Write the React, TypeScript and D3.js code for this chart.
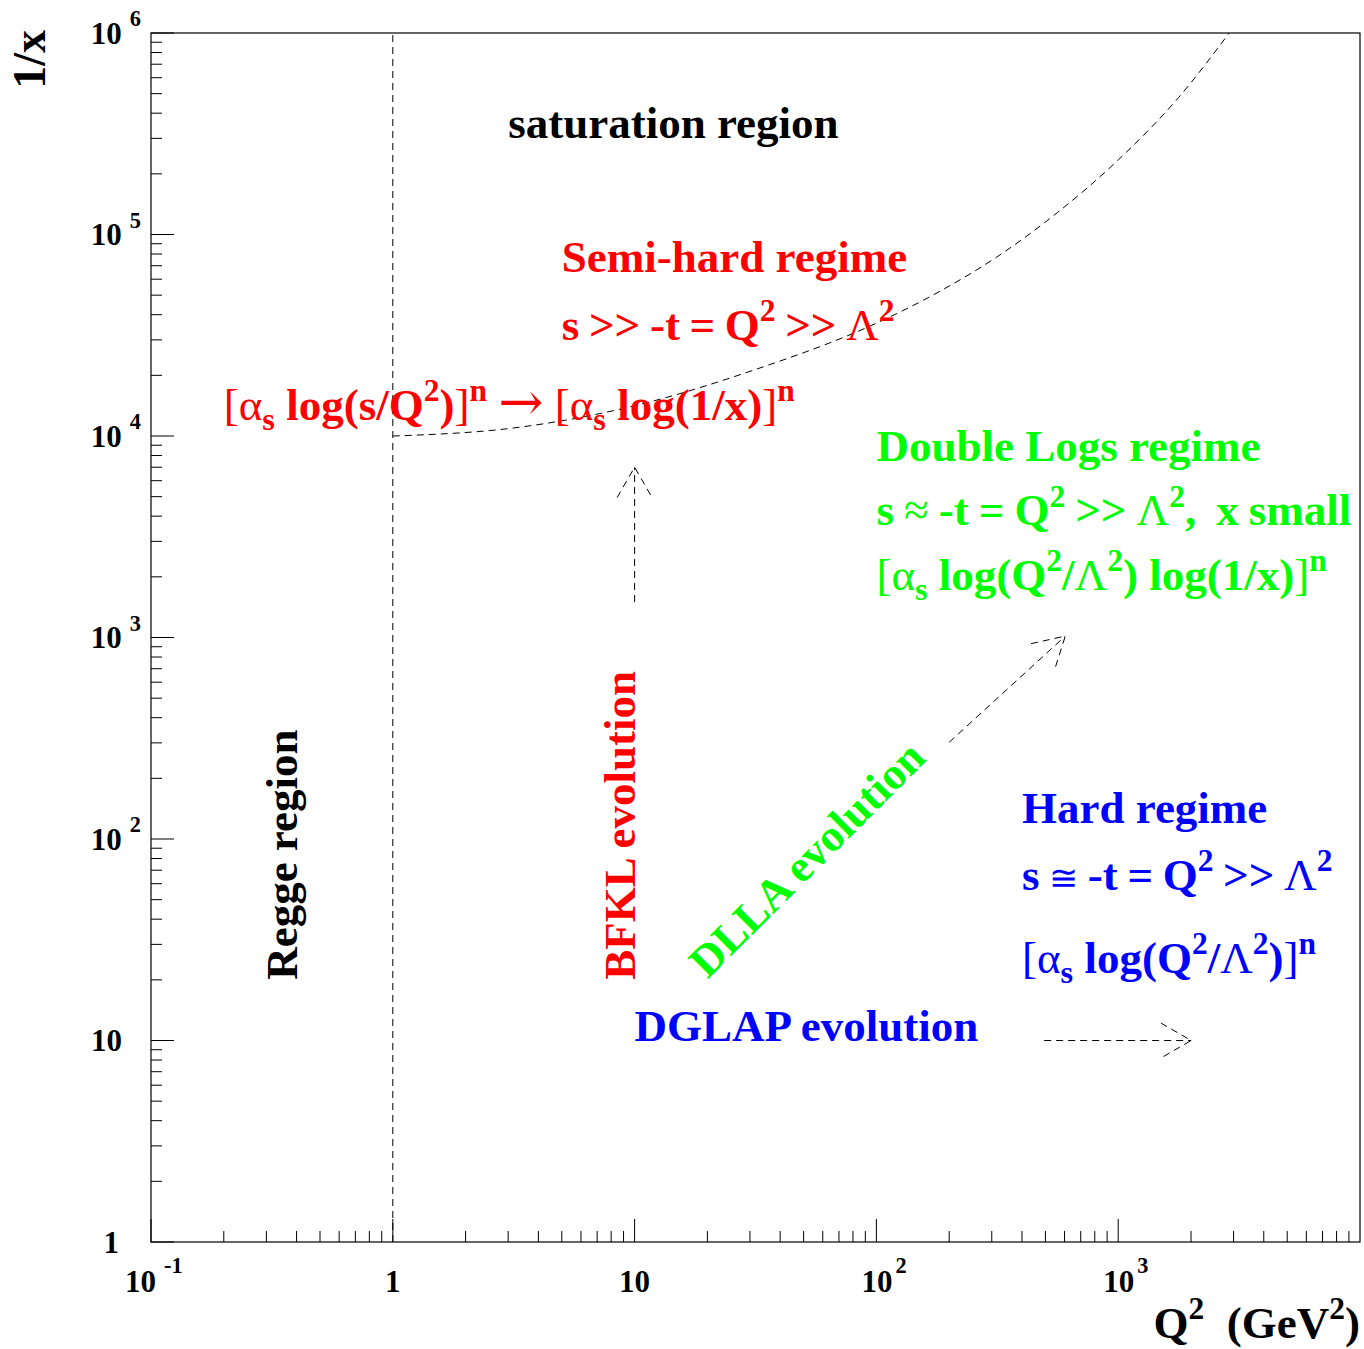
import React from "react";
import * as d3 from "d3";

const WIDTH = 1364;
const HEIGHT = 1349;

// Axis domains: Q^2 in GeV^2 (horizontal) and 1/x (vertical)
const q2Domain = [0.1, 1e4];
const invXDomain = [1, 1e6];

// Saturation boundary curve, starting at Q^2 = 1, 1/x = 10^4
const boundaryQ2 = [1, 3.16, 10, 31.6, 100, 178, 316, 562, 1000, 1778, 2877];
const boundaryInvX = [1e4, 1.096e4, 1.413e4, 2.138e4, 3.63e4, 5.13e4, 7.76e4, 1.288e5, 2.344e5, 4.786e5, 1e6];

// Regge boundary: Q^2 = 1
const reggeQ2 = 1;

// Evolution arrows (tail -> head)
const arrowNames = ["BFKL", "DLLA", "DGLAP"];
const arrowFromQ2 = [10, 200, 494];
const arrowFromInvX = [1500, 302, 10];
const arrowToQ2 = [10, 604, 2004];
const arrowToInvX = [7000, 1016, 10];

// Tick labels
const xMajorTicks = [0.1, 1, 10, 100, 1000];
const xTickLabels = ["10^{-1}", "1", "10", "10^{2}", "10^{3}"];
const yMajorTicks = [1, 10, 100, 1e3, 1e4, 1e5, 1e6];
const yTickLabels = ["1", "10", "10^{2}", "10^{3}", "10^{4}", "10^{5}", "10^{6}"];

const FONT = "'Liberation Serif', 'Times New Roman', Times, serif";
const THIN = new Set(["[", "]", "α", "→", "≈", "≅", "Λ"]);
const SOLO = new Set(["→", "≅"]);

type Seg = { kind: "n" | "sup" | "sub"; text: string; thin?: boolean };

function parse(src: string): Seg[] {
  const out: Seg[] = [];
  const re = /\^\{([^}]*)\}|_\{([^}]*)\}|([^^_]+)/g;
  let m: RegExpExecArray | null;
  while ((m = re.exec(src))) {
    if (m[1] !== undefined) out.push({ kind: "sup", text: m[1] });
    else if (m[2] !== undefined) out.push({ kind: "sub", text: m[2] });
    else {
      // split into runs of symbol glyphs and ordinary text
      let run = "";
      let runThin = false;
      for (const ch of m[3]) {
        const t = THIN.has(ch);
        if (run && (t !== runThin || SOLO.has(ch) || SOLO.has(run))) {
          out.push({ kind: "n", text: run, thin: runThin });
          run = "";
        }
        runThin = t;
        run += ch;
      }
      if (run) out.push({ kind: "n", text: run, thin: runThin });
    }
  }
  return out;
}

type RichProps = {
  text: string;
  x?: number;
  y?: number;
  size: number;
  fill: string;
  anchor?: "start" | "middle" | "end";
  transform?: string;
  supScale?: number;
  supRaise?: number;
  supGap?: number;
  wordSpacing?: number;
};

function Rich({
  text,
  x = 0,
  y = 0,
  size,
  fill,
  anchor = "start",
  transform,
  supScale = 0.7,
  supRaise = 0.42,
  supGap = 0,
  wordSpacing = 0,
}: RichProps) {
  const segs = parse(text);
  let cur = 0;
  return (
    <text
      x={x}
      y={y}
      transform={transform}
      fill={fill}
      fontFamily={FONT}
      fontWeight="bold"
      fontSize={size}
      textAnchor={anchor}
      style={{ whiteSpace: "pre", wordSpacing: `${wordSpacing}px` }}
    >
      {segs.map((s, i) => {
        const target = s.kind === "sup" ? -supRaise * size : s.kind === "sub" ? 0.22 * size : 0;
        const dy = target - cur;
        cur = target;
        let fs = s.kind === "sup" ? size * supScale : s.kind === "sub" ? size * 0.72 : size;
        let family: string | undefined;
        if (s.text === "→") {
          fs *= 1.2;
          family = "'DejaVu Serif', serif";
        } else if (s.text === "≅") {
          fs *= 0.78;
        }
        return (
          <tspan
            key={i}
            dy={dy}
            dx={s.kind === "sup" ? supGap : 0}
            fontSize={fs}
            fontFamily={family}
            fontWeight={s.thin ? "normal" : "bold"}
          >
            {s.text}
          </tspan>
        );
      })}
    </text>
  );
}

function minorTicks(lo: number, hi: number): number[] {
  const out: number[] = [];
  for (let d = lo; d < hi; d *= 10) {
    for (let k = 2; k <= 9; k++) out.push(d * k);
  }
  return out;
}

export default function App() {
  const x = d3.scaleLog().domain(q2Domain).range([151, 1360]);
  const y = d3.scaleLog().domain(invXDomain).range([1242, 33]);

  const dash = "7 5";

  const boundary = d3
    .line<number>()
    .x((_, i) => x(boundaryQ2[i]))
    .y((d) => y(d))
    .curve(d3.curveMonotoneX)(boundaryInvX) as string;

  const arrows = arrowNames.map((name, i) => {
    const x0 = x(arrowFromQ2[i]);
    const y0 = y(arrowFromInvX[i]);
    const x1 = x(arrowToQ2[i]);
    const y1 = y(arrowToInvX[i]);
    const ang = Math.atan2(y0 - y1, x0 - x1);
    const len = 35;
    const spread = (30 * Math.PI) / 180;
    const a1 = [x1 + len * Math.cos(ang + spread), y1 + len * Math.sin(ang + spread)];
    const a2 = [x1 + len * Math.cos(ang - spread), y1 + len * Math.sin(ang - spread)];
    return (
      <g key={name} stroke="#000" strokeWidth={1} fill="none" strokeDasharray={dash}>
        <line x1={x0} y1={y0} x2={x1} y2={y1} />
        <path d={`M${a1[0]},${a1[1]}L${x1},${y1}L${a2[0]},${a2[1]}`} />
      </g>
    );
  });

  const x0 = x(q2Domain[0]);
  const x1 = x(q2Domain[1]);
  const yTop = y(invXDomain[1]);
  const yBot = y(invXDomain[0]);

  const xMinor = minorTicks(0.1, 1e4);
  const yMinor = minorTicks(1, 1e6);

  const T = 45;
  const red = "#ff0000";
  const green = "#00ff00";
  const blue = "#0000ff";

  return (
    <div style={{ position: "absolute", left: 0, top: 0 }}>
      <svg width={WIDTH} height={HEIGHT} style={{ display: "block", background: "#fff" }}>
        {/* frame */}
        <rect x={x0} y={yTop} width={x1 - x0} height={yBot - yTop} fill="none" stroke="#000" strokeWidth={1.2} />

        {/* ticks */}
        <g stroke="#000" strokeWidth={1}>
          {xMajorTicks.map((t) => (
            <line key={"xM" + t} x1={x(t)} x2={x(t)} y1={yBot} y2={yBot - 23} />
          ))}
          {xMinor.map((t) => (
            <line key={"xm" + t} x1={x(t)} x2={x(t)} y1={yBot} y2={yBot - 11} />
          ))}
          {yMajorTicks.map((t) => (
            <line key={"yM" + t} x1={x0} x2={x0 + 23} y1={y(t)} y2={y(t)} />
          ))}
          {yMinor.map((t) => (
            <line key={"ym" + t} x1={x0} x2={x0 + 11} y1={y(t)} y2={y(t)} />
          ))}
        </g>

        {/* x tick labels */}
        {xMajorTicks.map((t, i) => {
          const lab = xTickLabels[i];
          const hasExp = lab.includes("^");
          const neg = lab.includes("-");
          return (
            <Rich
              key={"xl" + t}
              text={lab}
              x={hasExp ? x(t) - (neg ? 26 : 15) : x(t)}
              y={1292}
              size={31}
              fill="#000"
              anchor={hasExp ? "start" : "middle"}
              supScale={0.72}
              supRaise={0.62}
              supGap={neg ? 8 : 3}
            />
          );
        })}

        {/* y tick labels */}
        {yMajorTicks.map((t, i) => {
          const lab = yTickLabels[i];
          const hasExp = lab.includes("^");
          return (
            <Rich
              key={"yl" + t}
              text={lab}
              x={hasExp ? 141 : lab === "1" ? 119 : 122}
              y={y(t) + 10.5}
              size={31}
              fill="#000"
              anchor="end"
              supScale={0.72}
              supRaise={0.55}
              supGap={8}
            />
          );
        })}

        {/* axis titles */}
        <Rich text="1/x" transform={`translate(45,30) rotate(-90)`} size={46} fill="#000" anchor="end" />
        <Rich text="Q^{2}  (GeV^{2})" x={1360} y={1338} size={T} fill="#000" anchor="end" />

        {/* region boundaries */}
        <line
          x1={x(reggeQ2)}
          x2={x(reggeQ2)}
          y1={yBot}
          y2={yTop}
          stroke="#000"
          strokeWidth={1}
          strokeDasharray={dash}
        />
        <path d={boundary} fill="none" stroke="#000" strokeWidth={1} strokeDasharray={dash} />

        {arrows}

        {/* annotations */}
        <Rich text="saturation region" x={x(3)} y={y(3e5)} size={T} fill="#000" />

        <Rich text="Semi-hard regime" x={x(5)} y={y(6.5e4)} size={T} fill={red} />
        <Rich text="s >> -t = Q^{2} >> Λ^{2}" x={x(5)} y={y(3e4)} size={T} fill={red} wordSpacing={-1.6} />
        <Rich
          text="[α_{s} log(s/Q^{2})]^{n} → [α_{s} log(1/x)]^{n}"
          x={x(0.2)}
          y={y(1.2e4)}
          size={T}
          fill={red}
        />

        <Rich text="Double Logs regime" x={x(100)} y={y(7.5e3)} size={T} fill={green} />
        <Rich
          text="s ≈ -t = Q^{2} >> Λ^{2},  x small"
          x={x(100)}
          y={y(3.6e3)}
          size={T}
          fill={green}
          wordSpacing={-1.2}
        />
        <Rich text="[α_{s} log(Q^{2}/Λ^{2}) log(1/x)]^{n}" x={x(100)} y={y(1.72e3)} size={T} fill={green} />

        <Rich text="Hard regime" x={x(400)} y={y(120)} size={T} fill={blue} />
        <Rich text="s ≅ -t = Q^{2} >> Λ^{2}" x={x(400)} y={y(56)} size={T} fill={blue} wordSpacing={-1.6} />
        <Rich text="[α_{s} log(Q^{2}/Λ^{2})]^{n}" x={x(400)} y={y(21.6)} size={T} fill={blue} />

        <Rich text="DGLAP evolution" x={x(10)} y={y(10)} size={T} fill={blue} />

        <Rich text="Regge region" transform={`translate(${x(0.4)},${y(20)}) rotate(-90)`} size={T} fill="#000" />
        <Rich text="BFKL evolution" transform={`translate(${x(10)},${y(20)}) rotate(-90)`} size={T} fill={red} />
        <Rich text="DLLA evolution" transform={`translate(${x(20)},${y(20)}) rotate(-45)`} size={T} fill={green} />
      </svg>
    </div>
  );
}
